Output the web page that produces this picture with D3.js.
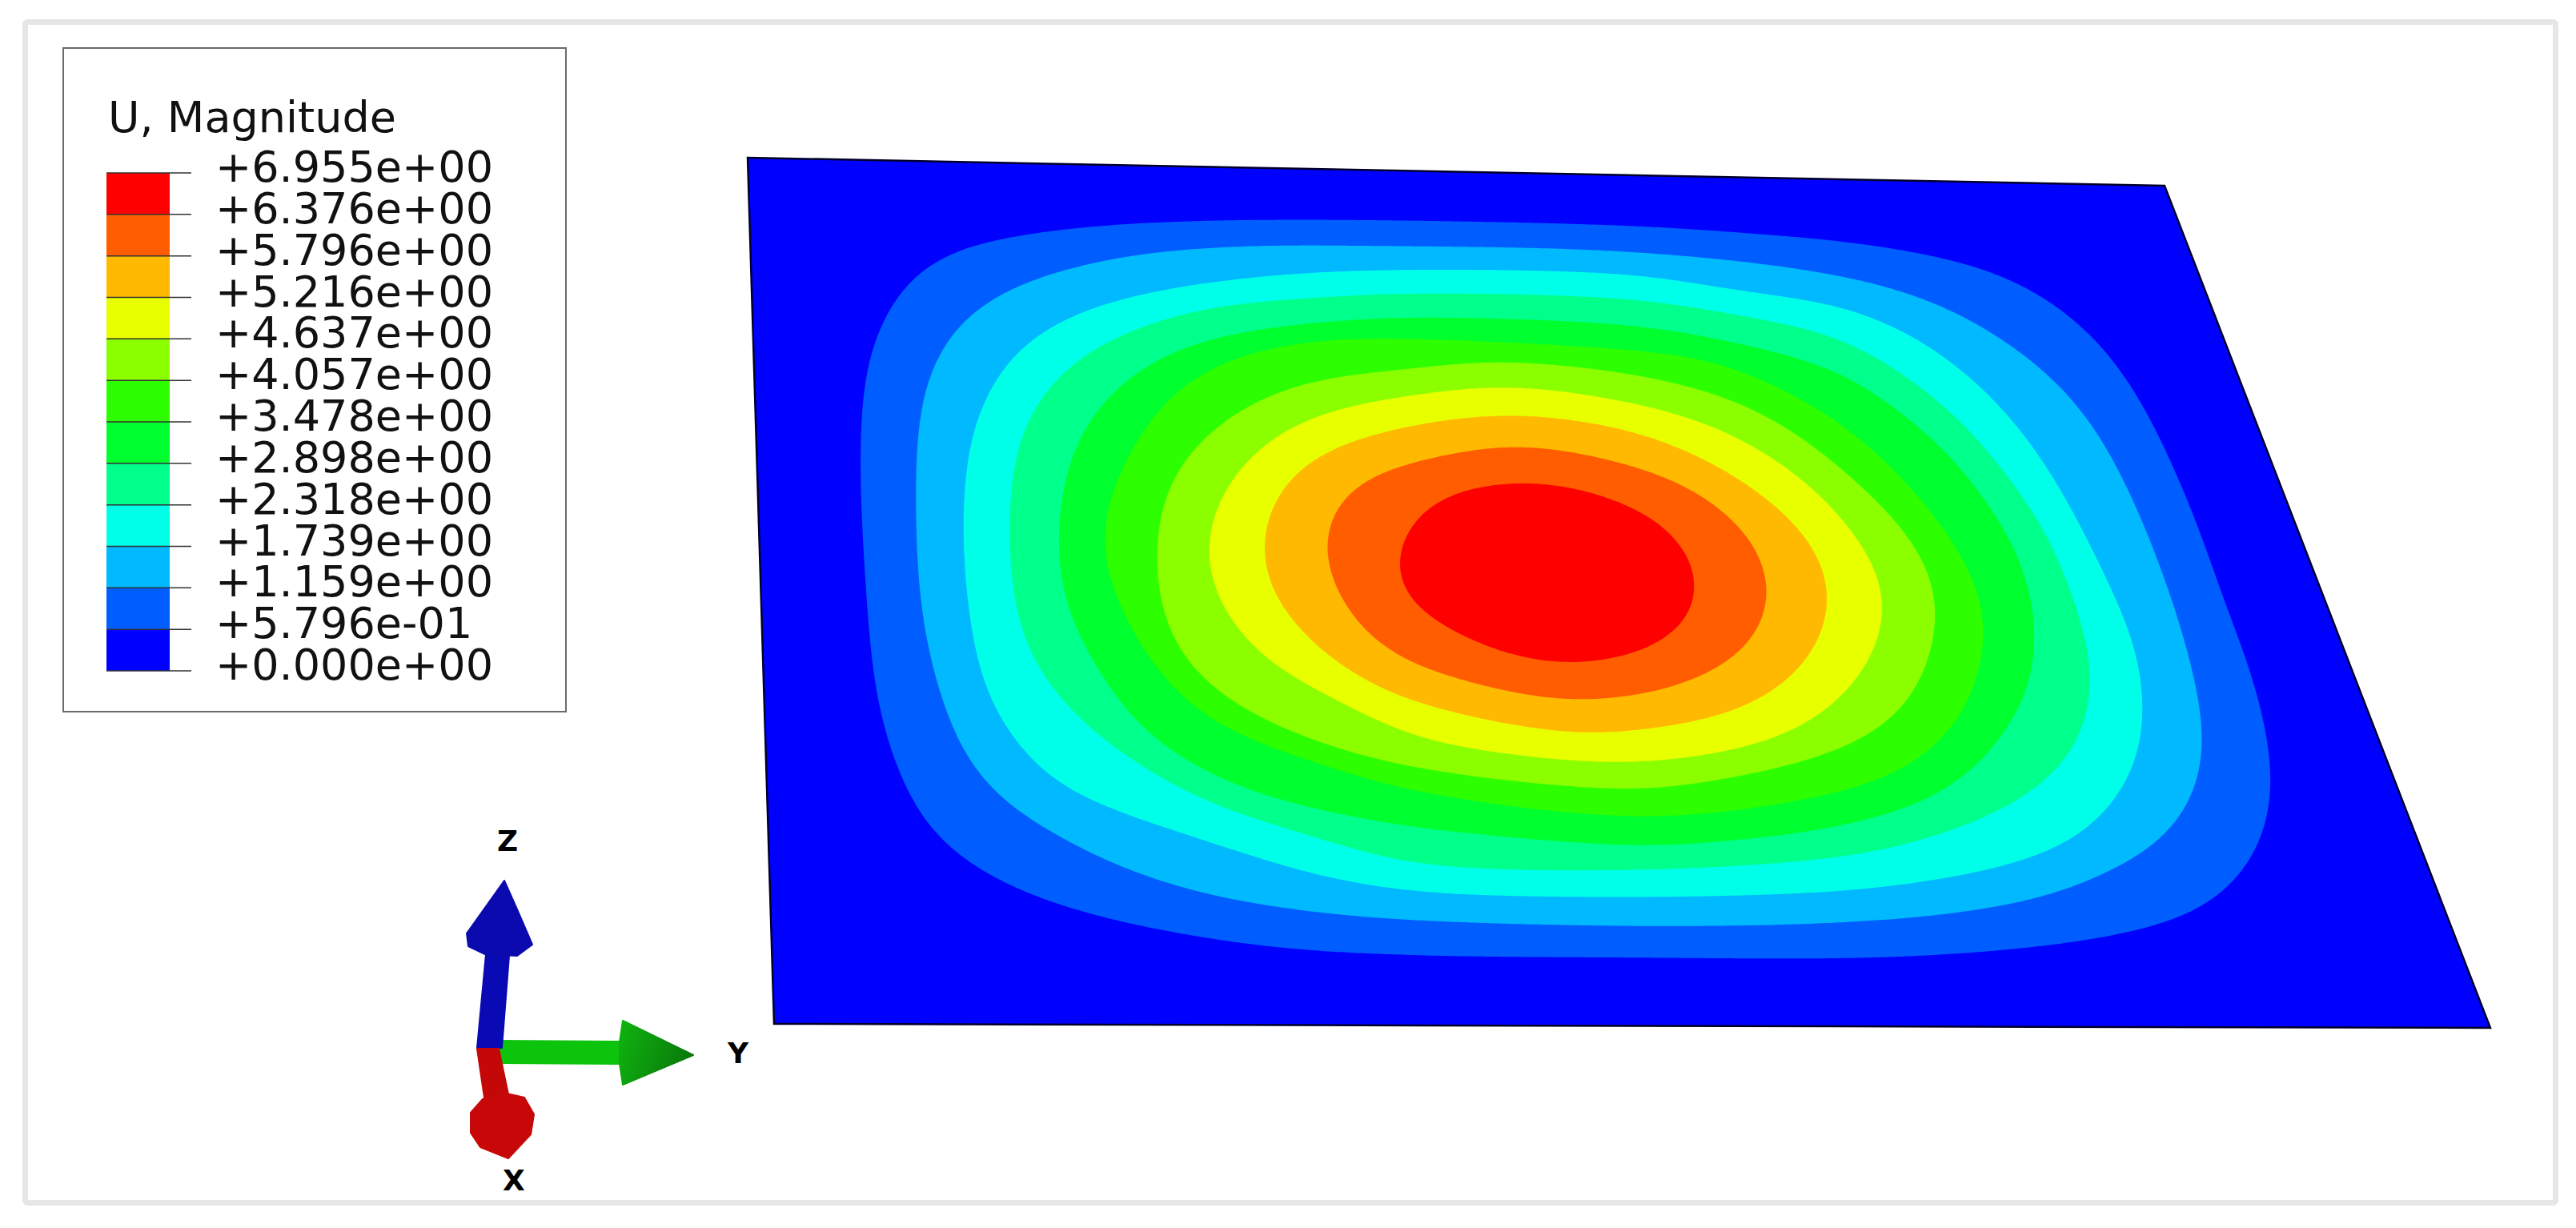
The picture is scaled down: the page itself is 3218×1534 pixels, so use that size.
<!DOCTYPE html>
<html><head><meta charset="utf-8">
<style>html,body{margin:0;padding:0;background:#fff;overflow:hidden}svg{display:block}</style>
<script src="https://cdn.jsdelivr.net/npm/d3@7"></script>
</head><body><div id="chart"></div>
<script>
// ---- Legend data ----
const legendTitle = "U, Magnitude";
const tickLabels = ["+6.955e+00","+6.376e+00","+5.796e+00","+5.216e+00","+4.637e+00","+4.057e+00","+3.478e+00","+2.898e+00","+2.318e+00","+1.739e+00","+1.159e+00","+5.796e-01","+0.000e+00"];
const bandColors = ["#ff0000","#ff5d00","#ffb900","#e8ff00","#8bff00","#2eff00","#00ff2e","#00ff8b","#00ffe8","#00b9ff","#005dff","#0000ff"];

// ---- Iso-contours: [% along plate width, % along plate depth] ----
const contour1 = [[6.8,34.5],[7.6,23.4],[9.1,17.5],[10.9,13.4],[13.2,10.8],[18,8.6],[24.4,7.1],[31.8,6.3],[41.8,5.9],[62.1,6],[70.5,6.7],[75.7,7.3],[81.8,8.8],[86.6,11.2],[90,15.5],[92,20.9],[92.9,26.6],[93.4,33.9],[93.6,42.9],[93.5,49],[93.6,57.3],[93.1,66.1],[92.3,71.9],[90.8,77.3],[88.8,81.7],[85.9,85.7],[81.9,88.3],[76.1,90.3],[68.7,91.6],[63.2,92],[51.4,92],[37.7,91.8],[30,91],[23.7,89.2],[18.5,86.9],[14.4,84],[11.3,80.4],[9.3,76.2],[7.9,69.6],[7.1,63.5],[6.8,56.4],[6.7,46.9]];
const contour2 = [[10.3,38.6],[10.7,31.2],[11.6,24.9],[13.3,19.9],[15.9,16.1],[20.3,12.9],[26.6,10.4],[34.1,9.2],[42.7,8.9],[61.7,9.1],[75,11.4],[80.8,14.2],[84.3,17.8],[87.4,23.1],[89,28.5],[89.9,36.5],[90.2,45.5],[90.1,54.5],[89.6,62.4],[88.9,67.6],[87.1,73.3],[84.7,77.7],[81.1,81.3],[77,84.3],[71.2,86.5],[63.7,87.8],[51.8,88.3],[38,87.7],[32.3,86.8],[26.1,84.8],[20.9,81.5],[16.9,77.4],[14.1,73.7],[12.2,68.8],[11.1,62.6],[10.4,56.4],[10.1,49]];
const contour3 = [[13.3,40.6],[14.1,32.3],[16,25.2],[18.5,20.6],[22.4,17.1],[27.4,14.7],[35,12.7],[43.7,11.7],[61.3,11.8],[67.3,13.3],[74.4,15],[78.1,17.6],[81.4,22.2],[83.9,28.6],[85.2,34.8],[86,41.3],[86.6,49.2],[86.9,53.7],[86.3,61.1],[85.5,65.4],[83.9,70.4],[81.7,74.6],[78.9,78.2],[73.7,81.4],[68,83.3],[64.2,84.1],[52.1,84.9],[38.3,84.3],[32.7,82.4],[26.5,78.6],[21.3,75.2],[17.7,72],[15.5,67.5],[13.8,61.2],[13.2,53],[13.1,46.8]];
const contour4 = [[16.3,40.5],[17.3,32.2],[18.9,27.3],[22.1,22.2],[26,19],[31,16.5],[38.4,15.1],[45,14.4],[60.8,14.7],[66.9,16.2],[73.8,18.8],[77.2,22.7],[80.3,28.4],[82.2,34.8],[83.6,41.7],[83.9,49.3],[83.9,54.5],[83.3,60],[82,64.7],[80.2,68.7],[77.8,72],[73.7,75.7],[68.6,78.7],[64.7,80.1],[52.5,81.7],[38.6,81],[33,78],[26.8,74],[22.7,69.5],[19.5,64.5],[17.3,59.1],[16.2,53],[16.1,44.7]];
const contour5 = [[19.1,46.7],[19.5,41.3],[20.1,36.3],[21.9,30.1],[24.5,25.4],[28.2,21.6],[33.2,19.2],[39.4,17.8],[44.7,17.2],[60.4,17.8],[66.4,19.5],[73.1,22.8],[76.4,27.4],[78.7,32.1],[80.5,38.8],[81.4,45.7],[81,52.2],[79.6,59.3],[77.2,64.8],[73.7,70.6],[69.7,74.2],[64.2,76.8],[58.4,78.2],[52.8,78.9],[39,76.8],[35.4,75.6],[30.1,73.1],[26,69.5],[23,64.9],[21.1,59.1],[19.6,52.9]];
const contour6 = [[22,44.6],[23,38.3],[24.8,32.9],[27,27.9],[30.4,23.6],[35.5,20.8],[40.4,19.8],[44.5,19.7],[60,20.7],[65,21.9],[69.5,25.5],[72.9,30],[75.8,36.9],[77.5,43.7],[78.1,50.2],[77.2,55.7],[75.5,61.2],[72.7,66.7],[68.8,70.7],[62.7,73.6],[53.2,75.5],[39.3,72.5],[33.7,69.3],[29.5,66.4],[26.4,62.7],[24,56.5],[22.7,50.8]];
const contour7 = [[25.4,46.6],[26.5,38.2],[28.5,33.3],[31.2,29.4],[35,26],[40,24],[44.1,23.3],[49.4,22.2],[59.6,23.6],[65.4,26.3],[68.9,29.9],[72,35.5],[74.2,40.8],[75.3,46.3],[75.2,50.3],[73.7,56.3],[71.5,62],[67.9,66.3],[63.3,69.2],[58.4,71.1],[53.5,72.3],[39.6,69.8],[33.9,66.8],[29.7,63.1],[26.7,58.2],[25.5,52.8]];
const contour8 = [[28.6,45.7],[29.3,41.1],[31.1,36.1],[34.1,31.4],[38.4,28.2],[43.7,26.4],[50.3,25.1],[59.1,27],[63.9,29.6],[67.4,33.5],[70,38.4],[71.5,43.8],[72.1,48.6],[71.7,51.4],[70,56.6],[67.9,60.6],[64.7,64.6],[60.7,67.2],[53.9,69.1],[47.4,68.6],[39.9,66.1],[35.5,61.8],[32.4,58.6],[30,54],[28.9,49.4]];
const contour9 = [[32.2,45.2],[33.1,40.1],[35.1,35.5],[38,32.6],[43.4,29.9],[50.7,28.4],[58.7,30.4],[62.4,33.2],[65.8,37.5],[67.9,42.1],[68.7,46.7],[68.3,50.5],[67,54.8],[64.6,59.1],[61.3,62.5],[57.3,64.5],[54.3,65.3],[50.3,65.8],[40.3,62.1],[36.8,58.8],[34.4,54.8],[32.6,49.8]];
const contour10 = [[36.2,45.1],[37.4,39.3],[39.5,36.3],[42.9,34.3],[50.3,32],[58.2,34.5],[60.9,36.5],[63.4,40.1],[64.7,44.3],[64.8,48.7],[63.9,52.4],[62.3,55.6],[60,58.2],[56.8,60.4],[54.8,61.2],[49.7,61.9],[40.7,57.7],[38.3,54.7],[36.9,50.1]];
const contour11 = [[40.7,45.7],[42.2,41.2],[43.5,38.9],[46.5,37.1],[50.2,36.2],[53.7,36.9],[57.5,39.4],[59.2,41.6],[60.2,44.8],[60.3,48.4],[59.2,52.4],[56.7,55.3],[55.4,56.3],[50.9,57.7],[47.5,56.9],[44.7,54.9],[41.3,50.8],[40.5,48.4]];
const contours = [contour1,contour2,contour3,contour4,contour5,contour6,contour7,contour8,contour9,contour10,contour11];
const plateCorners = [[0,0],[100,0],[100,100],[0,100]];

// ---- Triad glyph outlines, in glyph units around the joint ----
const zHead = [[7,-209],[-40,-143],[-38,-127],[-17,-117],[23,-115],[42,-129],[23,-173]];
const zShaft = [[-16,-117],[13,-115],[4,0],[-27,0]];
const xShaft = [[-27,1],[0,1],[12,58],[-18,62]];
const xHead = [[10,57],[32,62],[44,83],[40,108],[12,138],[-23,124],[-35,106],[-35,81],[-20,64]];
const yShaft = [[-1,-9],[153,-8],[153,20],[5,19]];
const yHead = [[155,-34],[243,9],[155,46],[151,19],[151,-7]];
const triadParts = [
  {pts:yShaft, fill:"#0cc40c"},{pts:yHead, fill:"url(#gHead)"},
  {pts:zShaft, fill:"#0a0ab4"},{pts:zHead, fill:"#0a0aae"},
  {pts:xShaft, fill:"#c40808"},{pts:xHead, fill:"#c80808"}];
const triadLabels = [{t:"Z",dx:11,dy:-246},{t:"Y",dx:299,dy:19},{t:"X",dx:19,dy:178}];

// ---- Drawing ----
const W = 3218, H = 1534;
const svg = d3.select("#chart").append("svg").attr("width",W).attr("height",H).attr("viewBox",`0 0 ${W} ${H}`);
const defs = svg.append("defs");
const gr = defs.append("linearGradient").attr("id","gHead").attr("x1",0).attr("x2",1).attr("y1",0).attr("y2",0.3);
gr.append("stop").attr("offset","0%").attr("stop-color","#10b410");
gr.append("stop").attr("offset","100%").attr("stop-color","#0a7c0a");

svg.append("rect").attr("width",W).attr("height",H).attr("fill","#fff");
svg.append("rect").attr("x",31.5).attr("y",27.5).attr("width",3161).attr("height",1475).attr("rx",3)
  .attr("fill","#fff").attr("stroke","#e6e6e6").attr("stroke-width",7);

// Plate projection built from linear scales along its four edges
const leftX = d3.scaleLinear().domain([0,100]).range([934,967]);
const rightX = d3.scaleLinear().domain([0,100]).range([2704,3111]);
const topY = d3.scaleLinear().domain([0,100]).range([197,232]);
const bottomY = d3.scaleLinear().domain([0,100]).range([1279,1284]);
const px = d => d3.scaleLinear().domain([0,100]).range([leftX(d[1]),rightX(d[1])])(d[0]);
const py = d => d3.scaleLinear().domain([0,100]).range([topY(d[0]),bottomY(d[0])])(d[1]);
const guide = d3.line().x(px).y(py).curve(d3.curveCatmullRomClosed.alpha(0.5));
const straight = d3.line().x(px).y(py).curve(d3.curveLinearClosed);
const outline = d3.line().curve(d3.curveLinearClosed);

// The contours are hand readings: even out reading jitter along the curve when tracing the outline
function circularMean(values, k){
  const n = values.length;
  return values.map((_, i) => {
    let s = 0;
    for (let j = -k; j <= k; j++) s += values[(i + j + n) % n];
    return s / (2 * k + 1);
  });
}
function bandPath(pts){
  const p = defs.append("path").attr("d", guide(pts));
  const node = p.node(), L = node.getTotalLength(), step = 4, N = Math.round(L / step);
  const q = d3.range(N).map(i => node.getPointAtLength(i * L / N));
  p.remove();
  const k = 12;
  const xs = circularMean(circularMean(q.map(d => d.x), k), k);
  const ys = circularMean(circularMean(q.map(d => d.y), k), k);
  return outline(xs.map((x, i) => [x, ys[i]]));
}

const fieldColors = bandColors.slice().reverse();
const plate = svg.append("g");
plate.append("path").attr("d",straight(plateCorners)).attr("fill",fieldColors[0]);
plate.selectAll("path.band").data(contours).join("path").attr("class","band")
  .attr("d",bandPath).attr("fill",(d,i)=>fieldColors[i+1]);
plate.append("path").attr("d",straight(plateCorners)).attr("fill","none").attr("stroke","#00002a").attr("stroke-width",2.5).attr("stroke-linejoin","miter");

// Legend
const font = "'DejaVu Sans', Verdana, sans-serif";
svg.append("rect").attr("x",79).attr("y",60).attr("width",628).attr("height",829)
  .attr("fill","#fff").attr("stroke","#6a6a6a").attr("stroke-width",2);
svg.append("text").attr("x",135).attr("y",165).attr("font-family",font).attr("font-size",54).attr("fill","#111").text(legendTitle);
const ly = d3.scalePoint().domain(d3.range(tickLabels.length)).range([216,838]);
const lg = svg.append("g");
lg.selectAll("rect").data(bandColors).join("rect")
  .attr("x",133).attr("width",79).attr("y",(d,i)=>ly(i)).attr("height",(d,i)=>ly(i+1)-ly(i)).attr("fill",d=>d);
lg.selectAll("line").data(tickLabels).join("line")
  .attr("x1",133).attr("x2",239).attr("y1",(d,i)=>ly(i)).attr("y2",(d,i)=>ly(i))
  .attr("stroke","#333").attr("stroke-width",1.5);
lg.selectAll("text").data(tickLabels).join("text")
  .attr("x",269).attr("y",(d,i)=>ly(i)+11).attr("font-family",font).attr("font-size",54).attr("fill","#111").text(d=>d);

// Triad
const tx = d3.scaleLinear().domain([0,1]).range([623,624]);
const ty = d3.scaleLinear().domain([0,1]).range([1309,1310]);
const tLine = d3.line().x(d=>tx(d[0])).y(d=>ty(d[1])).curve(d3.curveLinearClosed);
const triad = svg.append("g");
triad.selectAll("path").data(triadParts).join("path").attr("d",d=>tLine(d.pts)).attr("fill",d=>d.fill)
  .attr("stroke",d=>d.fill).attr("stroke-width",2).attr("stroke-linejoin","round");
triad.selectAll("text").data(triadLabels).join("text")
  .attr("x",d=>tx(d.dx)).attr("y",d=>ty(d.dy)).attr("text-anchor","middle")
  .attr("font-family",font).attr("font-weight","bold").attr("font-size",36).attr("fill","#000").text(d=>d.t);
</script></body></html>
